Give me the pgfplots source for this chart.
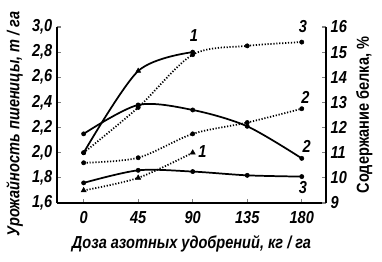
\documentclass[border=0pt]{standalone}
\usepackage{fontspec}
\setmainfont{Liberation Sans}[FakeStretch=0.84]
\usepackage{pgfplots}
\pgfplotsset{compat=1.18}
\newcommand\bi{\fontsize{13}{15}\selectfont\bfseries\itshape}
\begin{document}
\begin{tikzpicture}[font=\bi]
\pgfplotsset{
  common/.style={
    scale only axis, width=201.75pt, height=132pt,
    xmin=-22, xmax=200, clip=false,
    axis line style={-, line width=1pt},
    tick align=inside, major tick length=3pt, tick style={line width=0.8pt},
    tick label style={font=\bi},
    label style={font=\bi},
  },
  sol/.style={line width=1.3pt, smooth, mark=none},
  dot/.style={line width=1.3pt, smooth, mark=none, dash pattern=on 0.9pt off 1.3pt},
  pts/.style={only marks, mark=*, mark size=1.6pt},
  tri/.style={only marks, mark=triangle*, mark size=2.2pt},
}
\begin{axis}[common, name=ax,
  ymin=1.6, ymax=3.0,
  axis x line*=bottom, axis y line*=left,
  xtick={0,45,90,135,180},
  xticklabels={0,45,90,135,180},
  ytick={1.6,1.8,2.0,2.2,2.4,2.6,2.8,3.0},
  yticklabels={{1,6},{1,8},{2,0},{2,2},{2,4},{2,6},{2,8},{3,0}},
  xticklabel style={yshift=-3pt},
  xlabel={Доза азотных удобрений, кг / га},
  ylabel={Урожайность пшеницы, т / га},
  xlabel style={yshift=-2pt},
  ylabel style={at={(ticklabel cs:0.45)}},
]
% solid (yield)
\addplot[sol] coordinates {(0,2.00) (45,2.65) (90,2.80)};
\addplot[pts] coordinates {(0,2.00) (90,2.80)};
\addplot[tri] coordinates {(45,2.65)};
\addplot[sol] coordinates {(0,2.15) (45,2.38) (90,2.34) (135,2.21) (180,1.955)};
\addplot[pts] coordinates {(0,2.15) (45,2.38) (90,2.34) (135,2.21) (180,1.955)};
\addplot[sol] coordinates {(0,1.76) (45,1.86) (90,1.85) (135,1.82) (180,1.81)};
\addplot[pts] coordinates {(0,1.76) (45,1.86) (90,1.85) (135,1.82) (180,1.81)};
\node at (axis cs:91,2.93) {1};
\node at (axis cs:181,3.0) {3};
\node at (axis cs:183,2.44) {2};
\node at (axis cs:184,2.05) {2};
\node at (axis cs:98,2.01) {1};
\node at (axis cs:181,1.72) {3};
\end{axis}
\begin{axis}[common,
  ymin=9, ymax=16,
  axis y line*=right, axis x line=none,
  ytick={9,10,11,12,13,14,15,16},
  yticklabels={9,10,11,12,13,14,15,16},
  ylabel={\upshape\bfseries Содержание белка, \%},
]
\addplot[dot] coordinates {(0,11.0) (45,12.8) (90,14.9) (135,15.25) (180,15.4)};
\addplot[pts] coordinates {(0,11.0) (45,12.8) (90,14.9) (135,15.25) (180,15.4)};
\addplot[dot] coordinates {(0,10.6) (45,10.8) (90,11.75) (135,12.2) (180,12.75)};
\addplot[pts] coordinates {(0,10.6) (45,10.8) (90,11.75) (135,12.2) (180,12.75)};
\addplot[dot] coordinates {(0,9.5) (45,10.0) (90,11.0)};
\addplot[tri] coordinates {(0,9.5) (45,10.0) (90,11.0)};
\end{axis}
\pgfresetboundingbox
\path[use as bounding box] ([shift={(-42.75pt,-43.5pt)}]ax.south west) rectangle ([shift={(42pt,20.25pt)}]ax.north east);
\end{tikzpicture}
\end{document}
